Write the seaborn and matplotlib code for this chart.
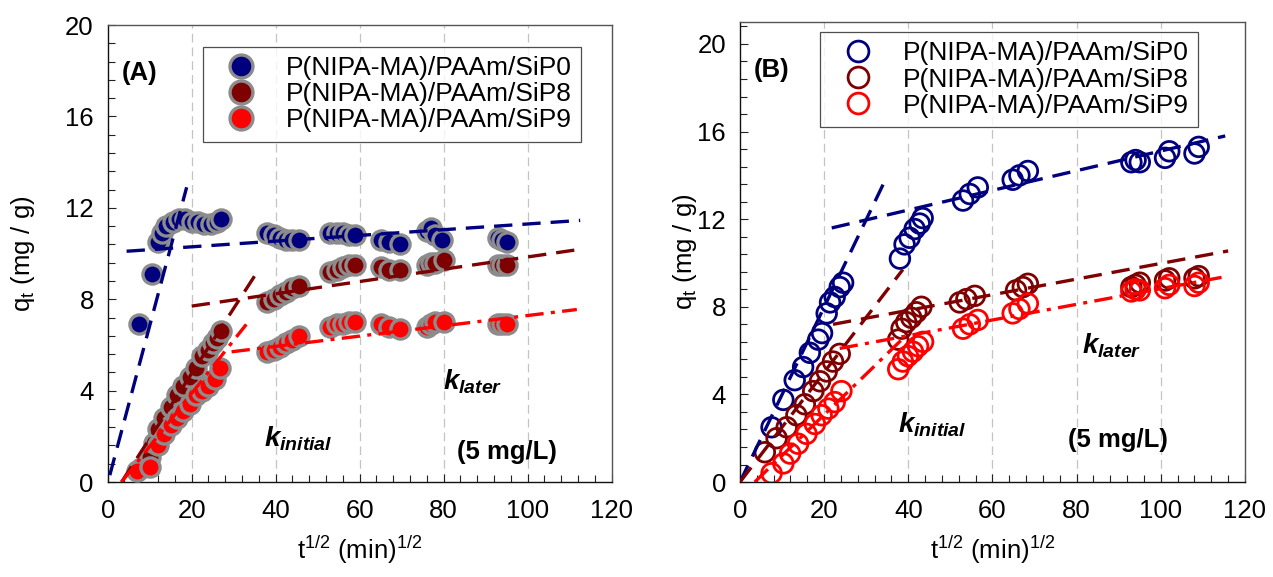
import matplotlib
matplotlib.use("Agg")
import matplotlib.pyplot as plt
from matplotlib.lines import Line2D
from matplotlib.ticker import MultipleLocator
import seaborn as sns

# ---------------- data ----------------
series_labels = ["P(NIPA-MA)/PAAm/SiP0", "P(NIPA-MA)/PAAm/SiP8", "P(NIPA-MA)/PAAm/SiP9"]
series_colors = ["#00007f", "#7f0000", "#ff0000"]

# Panel A
a_sip0_x = [7.5, 10.5, 12, 13, 14, 15.5, 17, 18.5, 20, 21.5, 23, 24.5, 26, 27,
            38, 39.5, 41, 42.5, 44, 45.5, 53, 54.5, 56, 57.5, 59, 65, 67, 69.5,
            76, 77, 78, 79.5, 93, 94, 95]
a_sip0_y = [6.9, 9.1, 10.5, 10.9, 11.2, 11.4, 11.5, 11.5, 11.4, 11.4, 11.3, 11.3, 11.4, 11.5,
            10.9, 10.8, 10.7, 10.6, 10.6, 10.6, 10.9, 10.9, 10.9, 10.8, 10.8, 10.6, 10.5, 10.4,
            11.0, 11.1, 10.8, 10.6, 10.7, 10.6, 10.5]
a_sip8_x = [8, 10, 11, 12, 13.5, 15, 16.5, 18, 19.5, 21, 22.5, 24, 25, 26, 27,
            38, 39.5, 41, 42.5, 44, 45.5, 53, 54.5, 56, 57.5, 59, 65, 67, 69.5,
            76, 77, 78, 80, 93, 94, 95]
a_sip8_y = [0.6, 1.1, 1.7, 2.3, 2.8, 3.3, 3.8, 4.2, 4.6, 5.0, 5.5, 5.8, 6.1, 6.3, 6.6,
            7.9, 8.0, 8.2, 8.3, 8.5, 8.6, 9.2, 9.3, 9.4, 9.5, 9.5, 9.4, 9.3, 9.3,
            9.5, 9.6, 9.6, 9.7, 9.5, 9.5, 9.5]
a_sip9_x = [7, 10, 12, 13.5, 15, 16.5, 18, 19.5, 21, 22.5, 24, 25.5, 26.7,
            38, 39.5, 41, 42.5, 44, 45.5, 53, 54.5, 56, 57.5, 59, 65, 67, 69.5,
            76, 77, 78, 80, 93, 94, 95]
a_sip9_y = [0.5, 0.65, 1.6, 2.1, 2.5, 2.8, 3.1, 3.4, 3.8, 4.0, 4.2, 4.5, 5.0,
            5.7, 5.8, 5.9, 6.1, 6.2, 6.4, 6.8, 6.9, 6.9, 7.0, 7.0, 6.9, 6.8, 6.7,
            6.8, 6.9, 7.0, 7.0, 6.9, 6.9, 6.9]

# fitted segments for panel A: (x0, x1), (y0, y1)
a_fit_initial_x = [[0.5, 18.8], [3.3, 35.8], [3.3, 33.0]]
a_fit_initial_y = [[0.3, 12.9], [0.0, 9.25], [0.0, 6.9]]
a_fit_later_x = [[4.5, 112.5], [20.0, 113.0], [29.5, 111.7]]
a_fit_later_y = [[10.1, 11.45], [7.7, 10.2], [5.7, 7.55]]

# Panel B
b_sip0_x = [7.5, 10.3, 13, 15, 16.6, 18.6, 19.5, 20.6, 21.4, 22.5, 23.7, 24.5,
            38, 39.1, 40.3, 41.5, 42.7, 43.4, 53, 54.6, 56.5, 64.8, 66.4, 68.4,
            93, 94, 95, 101, 102, 108, 109]
b_sip0_y = [2.5, 3.75, 4.65, 5.25, 5.9, 6.5, 6.8, 7.7, 8.2, 8.45, 8.9, 9.1,
            10.2, 10.85, 11.15, 11.55, 11.8, 12.05, 12.85, 13.15, 13.45, 13.8, 14.0, 14.2,
            14.6, 14.7, 14.6, 14.8, 15.1, 15.0, 15.3]
b_sip8_x = [5.9, 8.7, 11.1, 13.4, 15.4, 17.4, 19, 20.6, 22.1, 23.7,
            37.6, 38.4, 39.5, 40.7, 41.9, 43.1, 52.2, 53.8, 55.8, 65.6, 67.2, 68.4,
            93, 94, 95, 101, 102, 108, 109]
b_sip8_y = [1.36, 2.0, 2.5, 3.05, 3.55, 4.15, 4.6, 5.05, 5.5, 5.85,
            6.5, 7.0, 7.3, 7.5, 7.75, 8.0, 8.2, 8.35, 8.5, 8.75, 8.9, 9.05,
            8.9, 9.0, 9.1, 9.2, 9.3, 9.3, 9.4]
b_sip9_x = [7.5, 10.3, 11.9, 13.8, 15.8, 17.8, 19.4, 21, 22.5, 24.1,
            37.6, 38.7, 39.9, 41.1, 42.3, 43.5, 53, 54.6, 56.5, 64.8, 66.4, 68.4,
            93, 94, 95, 101, 102, 108, 109]
b_sip9_y = [0.4, 0.85, 1.3, 1.75, 2.2, 2.65, 3.05, 3.35, 3.65, 4.15,
            5.15, 5.5, 5.75, 5.95, 6.2, 6.4, 7.0, 7.2, 7.4, 7.7, 7.9, 8.15,
            8.7, 8.8, 8.75, 8.85, 9.0, 8.95, 9.1]

b_fit_initial_x = [[0.0, 34.8], [0.0, 38.7], [3.5, 38.7]]
b_fit_initial_y = [[0.0, 13.9], [0.0, 9.7], [0.0, 6.55]]
b_fit_later_x = [[21.8, 115.3], [22.1, 116.0], [23.7, 116.0]]
b_fit_later_y = [[11.6, 15.8], [7.2, 10.55], [6.1, 9.4]]

x_ticks = [0, 20, 40, 60, 80, 100, 120]
y_ticks = [0, 4, 8, 12, 16, 20]

# ---------------- style ----------------
sns.set_theme(style="white")
plt.rcParams["font.family"] = ["Liberation Sans", "DejaVu Sans"]
plt.rcParams["mathtext.fontset"] = "custom"
plt.rcParams["mathtext.rm"] = "Liberation Sans"
plt.rcParams["mathtext.it"] = "Liberation Sans:italic:bold"
plt.rcParams["mathtext.bf"] = "Liberation Sans:bold"
for key in ["text.color", "axes.labelcolor", "xtick.color", "ytick.color"]:
    plt.rcParams[key] = "black"

FS = 18.5
dash = (0, (5.5, 3))
dashdot = (0, (5.5, 2.2, 1.2, 2.2))
line_styles = [dash, dash, dashdot]

fig = plt.figure(figsize=(12.73, 5.77), dpi=100)
axA = fig.add_axes([0.0846, 0.1646, 0.3959, 0.7920])
axB = fig.add_axes([0.5813, 0.1646, 0.3967, 0.7972])


def style_axis(ax, ytop):
    ax.set_xlim(0, 120)
    ax.set_ylim(0, ytop)
    ax.set_xticks(x_ticks)
    ax.set_yticks(y_ticks)
    ax.xaxis.set_minor_locator(MultipleLocator(4))
    ax.yaxis.set_minor_locator(MultipleLocator(0.8))
    ax.tick_params(axis="both", which="both", direction="in", color="#222222",
                   width=0.8, bottom=True, left=True, top=False, right=False)
    ax.tick_params(axis="both", which="major", length=6, labelsize=FS)
    ax.tick_params(axis="both", which="minor", length=5)
    ax.tick_params(axis="x", pad=12)
    ax.tick_params(axis="y", pad=10)
    for side in ["left", "bottom"]:
        ax.spines[side].set_color("#111111")
        ax.spines[side].set_linewidth(1.0)
    for side in ["top", "right"]:
        ax.spines[side].set_visible(True)
        ax.spines[side].set_color("#555555")
        ax.spines[side].set_linewidth(1.0)
    for gx in x_ticks[1:-1]:
        ax.axvline(gx, color="#c4c4c4", lw=0.9, ls=(0, (7, 4)), zorder=0)
    ax.set_xlabel(r"t$^{\mathrm{1/2}}$ (min)$^{\mathrm{1/2}}$", fontsize=FS, labelpad=8)


def style_legend(leg):
    frame = leg.get_frame()
    frame.set_edgecolor("#222222")
    frame.set_linewidth(0.9)


legend_kw = dict(loc="upper left", borderaxespad=0, fontsize=19, frameon=True,
                 fancybox=False, labelspacing=0.08, handlelength=2.2,
                 handletextpad=0.6, borderpad=0.35)

# ---------------- panel A ----------------
a_xs = [a_sip0_x, a_sip8_x, a_sip9_x]
a_ys = [a_sip0_y, a_sip8_y, a_sip9_y]
for xs, ys, col in zip(a_xs, a_ys, series_colors):
    sns.scatterplot(x=xs, y=ys, ax=axA, color=col, s=190, edgecolor="#8c8c8c",
                    linewidth=2.4, zorder=3, legend=False)
for (fx, fy, lx, ly), col, ls in zip(zip(a_fit_initial_x, a_fit_initial_y,
                                         a_fit_later_x, a_fit_later_y),
                                     series_colors, line_styles):
    axA.plot(fx, fy, color=col, lw=2.4, ls=ls, zorder=4)
    axA.plot(lx, ly, color=col, lw=2.4, ls=ls, zorder=4)
style_axis(axA, 20)
axA.set_ylabel(r"q$_{\mathrm{t}}$ (mg / g)", fontsize=FS, labelpad=20)

handlesA = [Line2D([], [], ls="none", marker="o", markersize=16.5, color=c,
                   markeredgecolor="#8c8c8c", markeredgewidth=2.4) for c in series_colors]
legA = axA.legend(handlesA, series_labels, bbox_to_anchor=(0.189, 0.952), **legend_kw)
style_legend(legA)

axA.text(7.7, 17.9, "(A)", fontsize=FS, fontweight="bold", ha="center", va="center")
axA.text(45.4, 1.9, r"$k_{initial}$", fontsize=20, ha="center", va="center")
axA.text(87, 4.4, r"$k_{later}$", fontsize=20, ha="center", va="center")
axA.text(95.1, 1.3, "(5 mg/L)", fontsize=FS, fontweight="bold", ha="center", va="center")

# ---------------- panel B ----------------
b_xs = [b_sip0_x, b_sip8_x, b_sip9_x]
b_ys = [b_sip0_y, b_sip8_y, b_sip9_y]
for xs, ys, col in zip(b_xs, b_ys, series_colors):
    sns.scatterplot(x=xs, y=ys, ax=axB, facecolors="none", edgecolor=col, s=200,
                    linewidth=2.0, zorder=3, legend=False)
for (fx, fy, lx, ly), col, ls in zip(zip(b_fit_initial_x, b_fit_initial_y,
                                         b_fit_later_x, b_fit_later_y),
                                     series_colors, line_styles):
    axB.plot(fx, fy, color=col, lw=2.4, ls=ls, zorder=4)
    axB.plot(lx, ly, color=col, lw=2.4, ls=ls, zorder=4)
style_axis(axB, 21)
axB.set_ylabel(r"q$_{\mathrm{t}}$ (mg / g)", fontsize=FS, labelpad=-1)

handlesB = [Line2D([], [], ls="none", marker="o", markersize=15, markerfacecolor="none",
                   markeredgecolor=c, markeredgewidth=2.0) for c in series_colors]
legB = axB.legend(handlesB, series_labels, bbox_to_anchor=(0.158, 0.978), **legend_kw)
style_legend(legB)

axB.text(7.4, 18.8, "(B)", fontsize=FS, fontweight="bold", ha="center", va="center")
axB.text(45.6, 2.6, r"$k_{initial}$", fontsize=20, ha="center", va="center")
axB.text(88.3, 6.2, r"$k_{later}$", fontsize=20, ha="center", va="center")
axB.text(89.7, 1.9, "(5 mg/L)", fontsize=FS, fontweight="bold", ha="center", va="center")

fig.savefig("out.png", dpi=100)
